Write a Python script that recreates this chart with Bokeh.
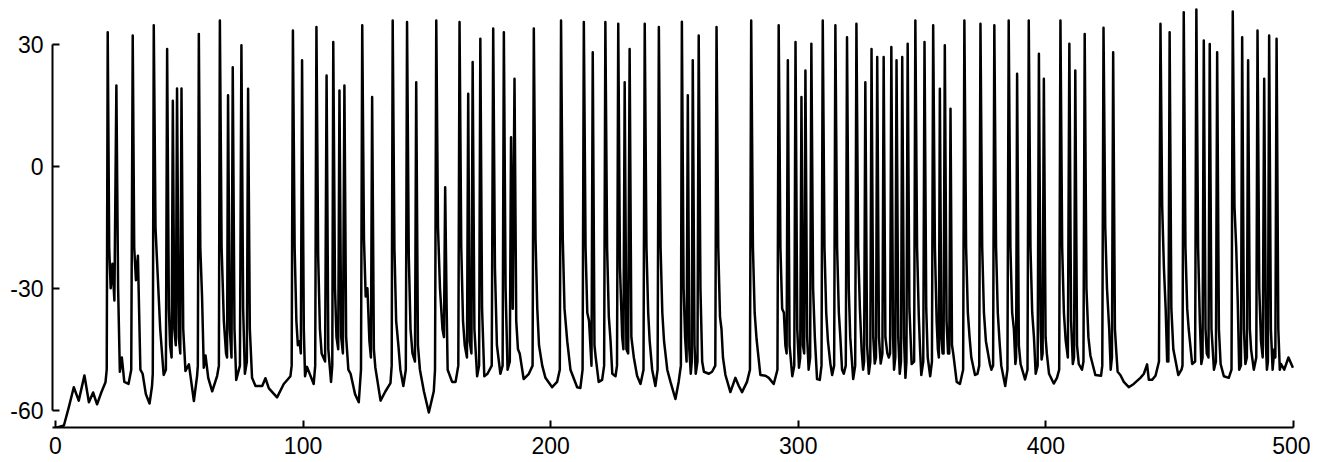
from bokeh.plotting import figure
from bokeh.models import Range1d, FixedTicker, CustomJSTickFormatter
from bokeh.embed import file_html
from bokeh.resources import INLINE

# membrane potential trace (time in ms, voltage in mV)
trace_000 = [
    (0, -64.3), (3.4, -63.7), (5.4, -59.2), (7.4, -54.3), (9.4, -57.6), (11.7, -51.4), (13.5, -58),
    (15.2, -55.6), (16.8, -58.5), (18.5, -55.6), (20.2, -53.1), (20.7, -50),
    (21.1, 32.9), (21.7, -20), (22.3, -30), (23.0, -24), (23.8, -33),
    (24.6, 19.8), (25.3, -30), (26.0, -50.5), (26.8, -47), (27.8, -53), (29.5, -53.5), (30.6, -50),
    (31.2, 32.1), (31.8, -20), (32.5, -28), (33.3, -22), (34.3, -50), (35.2, -51), (36.5, -56),
    (38.0, -58.3), (39.0, -54), (39.3, -51),
    (39.7, 34.6), (40.4, -15), (41.0, -23), (42.3, -40), (43.7, -51.3), (44.6, -50),
    (45.1, 28.8), (45.8, -35), (46.3, -44), (46.9, -47),
    (47.4, 16.1), (48.0, -40), (48.6, -44),
    (49.1, 19.1), (49.8, -42), (50.4, -46),
    (50.9, 19.1), (51.6, -40), (52.5, -50.3), (53.9, -48.7), (55.9, -57.7), (57.2, -51.5), (57.5, -49),
    (57.9, 32.5), (58.5, -20), (59.2, -32), (59.9, -49.5), (60.6, -46.5), (61.7, -52), (63.3, -55.3),
    (65.3, -51.5), (66.0, -49),
    (66.4, 35.8), (67.1, -20), (68.0, -38), (68.9, -46), (69.3, -47),
    (69.7, 17.4), (70.4, -40), (71.1, -47),
    (71.6, 24.3), (72.3, -40), (73.0, -52.5), (74.5, -49),
    (75.1, 29.7), (75.8, -35), (76.5, -51), (77.3, -48),
    (77.8, 19.0), (78.5, -40), (79.4, -52), (80.8, -54), (83.5, -54), (84.8, -52.1), (86.2, -54.6),
    (89.5, -56.8), (92.2, -53.5), (94.9, -51.6), (95.4, -49),
    (95.9, 33.3), (96.6, -20), (97.3, -38), (97.9, -44), (98.6, -43), (99.1, -46),
    (99.6, 26.0),
]
trace_100 = [
    (100.3, -40), (100.8, -51.6), (101.6, -49.3), (104.3, -53.5), (104.9, -49),
    (105.4, 34.2), (106.1, -22), (106.8, -40), (107.5, -46), (108.9, -48),
    (109.5, 22.3), (110.2, -45), (111.3, -53), (111.8, -49),
    (112.2, 30.5), (112.9, -30), (113.5, -42), (114.2, -45),
    (114.7, 18.6), (115.4, -42), (116.1, -46),
    (116.7, 19.8), (117.4, -42), (118.3, -50), (119.2, -51), (121.0, -56), (122.5, -58), (123.4, -50),
    (123.9, 34.6), (124.6, -18), (125.3, -32), (126.0, -30), (126.8, -43), (127.4, -47),
    (127.9, 17.0), (128.6, -45), (129.2, -49.5), (131.3, -57.6), (133.3, -55.3), (135.3, -53.3), (135.8, -49),
    (136.2, 35.8), (136.9, -20), (137.6, -38), (138.5, -44), (139.3, -50), (140.5, -54), (141.5, -50),
    (142.0, 35.4), (142.7, -22), (143.4, -40), (144.2, -46), (145.2, -48),
    (145.7, 20.6), (146.4, -44), (147.2, -50), (148.8, -55.3), (150.8, -60.5), (152.8, -55.3), (153.3, -50),
    (153.8, 35.8), (154.5, -15), (155.3, -30), (156.3, -40), (156.9, -42),
    (157.4, -5.2), (158.0, -35), (158.4, -50), (160.2, -53), (161.6, -53), (162.7, -49),
    (163.2, 35.4), (163.9, -20), (164.6, -38), (165.3, -44), (166.2, -47),
    (166.7, 17.8), (167.3, -43), (168.0, -46),
    (168.5, 25.6), (169.2, -40), (170.3, -51.6), (171.1, -49),
    (171.6, 31.3), (172.3, -35), (173.2, -51.6), (174.5, -51), (176.2, -49),
    (176.8, 33.8), (177.5, -25), (178.3, -44), (179.7, -51), (180.6, -49),
    (181.1, 32.9), (181.8, -30), (182.6, -50), (183.5, -48),
    (184.0, 7.1), (184.7, -35),
    (185.4, 21.5), (186.1, -38), (186.8, -45), (187.5, -46), (189.1, -52.3), (191.2, -51), (192.7, -49),
    (193.2, 33.8), (193.9, -18), (194.6, -35), (195.3, -44), (196.6, -49), (197.9, -52),
]
trace_200 = [
    (200.6, -54.3), (202.6, -53), (203.7, -50),
    (204.2, 35.8), (204.9, -18), (205.6, -35), (206.7, -43), (208.0, -50), (210.7, -54.3), (212.0, -54.5), (212.9, -50),
    (213.4, 35.4), (214.1, -20), (214.8, -36), (215.5, -38), (216.5, -49),
    (217.0, 28.0), (217.7, -44), (218.2, -47), (219.4, -53), (220.8, -52.5), (221.6, -49),
    (222.1, 35.4), (222.8, -20), (223.5, -37), (224.2, -43), (224.9, -51), (226.2, -51.6), (226.8, -49),
    (227.3, 35.0), (228.0, -25), (228.9, -42), (229.4, -45),
    (229.9, 20.6), (230.6, -45), (231.3, -46),
    (231.9, 28.8), (232.6, -42), (233.6, -47), (234.9, -51.5), (236.3, -53.5), (237.5, -50),
    (238.0, 35.0), (238.7, -20), (239.4, -36), (240.0, -43), (241.0, -50), (242.3, -54), (243.2, -50),
    (243.7, 34.2), (244.4, -20), (245.1, -36), (245.8, -43), (247.1, -50), (248.4, -53), (250.4, -57.2),
    (251.7, -53), (252.6, -49),
    (253.0, 35.5), (253.7, -30), (254.3, -42), (254.9, -48),
    (255.4, 17.4), (256.0, -45), (256.6, -51), (257.0, -48),
    (257.4, 26.0), (258.1, -44), (258.6, -51), (259.3, -48),
    (259.8, 32.1), (260.5, -30), (261.2, -48), (261.9, -50.5), (263.9, -51), (265.2, -50.5), (266.5, -49),
    (267.0, 34.2), (267.7, -20), (268.4, -37), (269.0, -40), (269.6, -47), (270.6, -51.3), (272.6, -55.5),
    (274.6, -52), (276.0, -54), (277.3, -55.5), (279.3, -53), (280.5, -50),
    (281.0, 35.8), (281.7, -20), (282.4, -36), (283.2, -42.7), (284.7, -51.3), (286.8, -51.5), (288.1, -52),
    (290.1, -53.5), (291.6, -50),
    (292.1, 34.6), (292.8, -20), (293.5, -35), (294.2, -36), (294.8, -44), (295.3, -46),
    (295.8, 26.0), (296.5, -44), (297.6, -51.6), (298.4, -49),
    (298.9, 30.5), (299.6, -40),
]
trace_300 = [
    (300.3, -49.5), (300.8, -47),
    (301.3, 17.0), (301.9, -44), (302.4, -46),
    (302.9, 23.5), (303.6, -42), (304.2, -50), (304.8, -47),
    (305.3, 30.1), (306.0, -30), (306.7, -42), (307.6, -52.3), (308.7, -52.5), (309.4, -49),
    (309.9, 35.8), (310.6, -20), (311.3, -36), (312.0, -43), (313.0, -48.6), (313.7, -51.3), (314.5, -49),
    (315.0, 34.6), (315.7, -20), (316.4, -36), (317.0, -42), (317.7, -50), (318.4, -51), (319.2, -49),
    (319.7, 31.7), (320.4, -30), (321.0, -42), (322.2, -52.3), (323.0, -49),
    (323.5, 35.0), (324.2, -20), (324.9, -35), (325.6, -45), (326.2, -50), (326.6, -48),
    (327.1, 20.6), (327.8, -44), (328.5, -51), (329.1, -48),
    (329.6, 28.8), (330.3, -42), (330.9, -48.5), (331.4, -47),
    (331.9, 26.8), (332.6, -42), (333.3, -48.5), (334.0, -46),
    (334.5, 26.8), (335.2, -42), (336.0, -46), (336.6, -47), (337.1, -46),
    (337.6, 29.3), (338.3, -42), (338.7, -50), (339.2, -47),
    (339.7, 26.0), (340.4, -42), (341.0, -51), (341.5, -48),
    (342.0, 26.8), (342.7, -42), (343.3, -52), (343.7, -48),
    (344.2, 30.1), (344.9, -35), (345.8, -48.6), (346.8, -48),
    (347.3, 35.8), (348.0, -20), (348.7, -37), (349.2, -45), (349.7, -51.3), (350.5, -48),
    (351.0, 30.5), (351.7, -35), (352.3, -47), (353.3, -51.6), (354.0, -48),
    (354.5, 34.6), (355.2, -20), (355.9, -38), (356.4, -45), (356.8, -47),
    (357.2, 19.0), (357.8, -42), (358.3, -46), (358.7, -46),
    (359.2, 29.7), (359.9, -38), (360.5, -46), (361.0, -46),
    (361.5, 14.1), (362.1, -44), (362.6, -46), (364.0, -53), (365.3, -53.5), (366.6, -50),
    (367.1, 35.8), (367.8, -20), (368.5, -36), (369.2, -42), (369.9, -47), (371.4, -51.3), (372.4, -51), (373.1, -49),
    (373.6, 35.0), (374.3, -20), (375.0, -36), (375.8, -43), (377.4, -48.6), (378.0, -50), (378.7, -49),
    (379.2, 34.6), (379.9, -20), (380.6, -36), (381.3, -43), (382.0, -49), (383.6, -54), (384.5, -50),
    (385.0, 35.8), (385.7, -20), (386.4, -36), (387.1, -40), (387.7, -48.6), (388.0, -47),
    (388.4, 22.7), (389.1, -44), (389.8, -48.6), (391.6, -52.4), (392.6, -50),
    (393.1, 35.8), (393.8, -20), (394.5, -36), (395.2, -42), (395.9, -51), (396.7, -49),
    (397.2, 27.6), (397.9, -40), (398.3, -47.5), (398.7, -46),
    (399.2, 21.5), (399.9, -42),
]
trace_400 = [
    (400.4, -46), (401.3, -51), (403.2, -53.4), (404.5, -52), (405.4, -50),
    (405.9, 35.8), (406.6, -20), (407.3, -36), (408.0, -42.7), (408.9, -47),
    (409.5, 30.1), (410.2, -38), (410.9, -48.6), (411.4, -47),
    (411.9, 23.5), (412.6, -44), (413.3, -48.6), (414.6, -50), (415.2, -48),
    (415.7, 32.5), (416.4, -30), (417.2, -42), (418.0, -46.5), (420.0, -51.3), (422.3, -51.5), (422.8, -49),
    (423.3, 34.0), (424.0, -15), (424.7, -30), (425.6, -40), (426.2, -50), (426.7, -47),
    (427.2, 28.0), (427.9, -40), (428.4, -45), (429.0, -50.5), (430.1, -51.3), (431.5, -53), (433.5, -54.3),
    (435.5, -53.5), (438.2, -52), (439.6, -51), (440.9, -48.7), (441.6, -52.5), (442.9, -52.5), (444.3, -51.5),
    (445.7, -48),
    (446.3, 35.0), (447.0, -10), (447.7, -25), (448.4, -35), (449.0, -48), (449.5, -48),
    (450.0, 32.9), (450.7, -35), (451.5, -45), (453.5, -51.3), (454.8, -50), (455.2, -49),
    (455.7, 37.8), (456.4, -20), (457.1, -35), (457.7, -40), (459.1, -48.6), (460.3, -48),
    (460.8, 38.5), (461.5, -20), (462.2, -38), (462.8, -48.6), (463.3, -47),
    (463.8, 30.9), (464.5, -40), (465.0, -46), (465.7, -47),
    (466.2, 30.0), (466.9, -40), (467.9, -50), (468.7, -48),
    (469.2, 28.0), (469.9, -40), (470.6, -48.6), (471.9, -51.6), (473.9, -52), (475.0, -50),
    (475.5, 38.0), (476.2, -10), (476.9, -20), (477.5, -33), (478.1, -50), (478.8, -49),
    (479.3, 31.7), (480.0, -40), (480.6, -48.6), (481.2, -47),
    (481.7, 26.0), (482.4, -40), (482.9, -45), (484.0, -50), (485.0, -47),
    (485.5, 33.3), (486.2, -30), (486.9, -43), (487.6, -47),
    (488.2, 21.5), (488.9, -44), (489.3, -50), (489.7, -48),
    (490.2, 32.1), (490.9, -40), (491.6, -50), (492.3, -45), (492.7, -47),
    (493.2, 31.3), (493.9, -40), (494.5, -50), (495.0, -48.6), (496.3, -50), (498.0, -47), (499.8, -49.5),
]

x_ticks = [0, 100, 200, 300, 400, 500]
y_ticks = [-60, -30, 0, 30]

points = trace_000 + trace_100 + trace_200 + trace_300 + trace_400
t_ms = [pt[0] for pt in points]
v_mv = [pt[1] for pt in points]

FONT = "Liberation Sans"
FONT_SIZE = "23px"

p = figure(width=1310, height=462, output_backend="svg", toolbar_location=None,
           x_range=Range1d(-1.2, 506.9), y_range=Range1d(-64.2, 40.7),
           min_border_left=52, min_border_right=0, min_border_top=0, min_border_bottom=35)
p.outline_line_color = None
p.grid.visible = False
p.background_fill_color = "white"
p.border_fill_color = "white"

p.line(t_ms, v_mv, line_color="black", line_width=2.5, line_join="round")

fmt = CustomJSTickFormatter(code="return tick.toString();")
for ax in (p.xaxis[0], p.yaxis[0]):
    ax.axis_line_width = 2
    ax.axis_line_color = "black"
    ax.major_tick_line_width = 2
    ax.major_tick_line_color = "black"
    ax.major_tick_out = 0
    ax.major_tick_in = 7
    ax.minor_tick_in = 0
    ax.minor_tick_out = 0
    ax.major_label_text_font = FONT
    ax.major_label_text_font_size = FONT_SIZE
    ax.major_label_text_color = "black"
    ax.formatter = fmt

p.xaxis.ticker = FixedTicker(ticks=x_ticks)
p.xaxis.bounds = (-1.2, 500)
p.xaxis.major_label_standoff = 9
p.yaxis.ticker = FixedTicker(ticks=y_ticks)
p.yaxis.bounds = (-60, 30)
p.yaxis.major_label_standoff = 9

open("out.html", "w").write(file_html(p, INLINE))
